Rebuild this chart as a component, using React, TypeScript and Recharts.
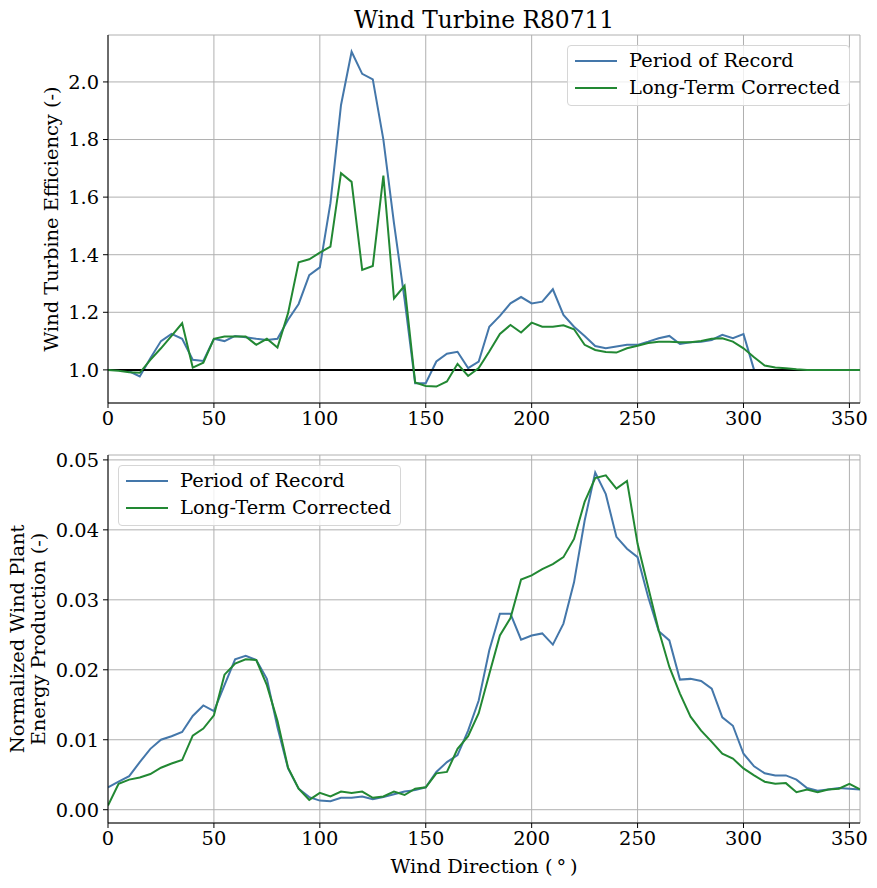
import React from 'react';
import { LineChart, Line, XAxis, YAxis, CartesianGrid, ReferenceLine, Legend } from 'recharts';

// Wind direction bins (degrees)
const directions = [
  0, 5, 10, 15, 20, 25, 30, 35, 40, 45, 50, 55, 60, 65, 70, 75, 80, 85,
  90, 95, 100, 105, 110, 115, 120, 125, 130, 135, 140, 145, 150, 155, 160, 165, 170, 175,
  180, 185, 190, 195, 200, 205, 210, 215, 220, 225, 230, 235, 240, 245, 250, 255, 260, 265,
  270, 275, 280, 285, 290, 295, 300, 305, 310, 315, 320, 325, 330, 335, 340, 345, 350, 355,
];

// Turbine efficiency per direction bin
const efficiencyRecord = [
  1.0, 1.0, 0.995, 0.977, 1.04, 1.1, 1.125, 1.108, 1.035, 1.031, 1.108, 1.1, 1.118, 1.113, 1.108, 1.104, 1.108, 1.174,
  1.229, 1.329, 1.356, 1.579, 1.92, 2.105, 2.028, 2.009, 1.8, 1.51, 1.245, 0.954, 0.954, 1.029, 1.056, 1.063, 1.006, 1.029,
  1.15, 1.1875, 1.231, 1.253, 1.231, 1.237, 1.28, 1.191, 1.15, 1.118, 1.083, 1.075, 1.081, 1.087, 1.087, 1.098, 1.11, 1.118,
  1.09, 1.096, 1.098, 1.104, 1.122, 1.11, 1.124, 1.0, 1.0, 1.0, 1.0, 1.0, 1.0, 1.0, 1.0, 1.0, 1.0, 1.0,
];
const efficiencyCorrected = [
  1.0, 0.997, 0.992, 0.99, 1.035, 1.075, 1.118, 1.162, 1.008, 1.025, 1.108, 1.116, 1.116, 1.116, 1.087, 1.108, 1.078, 1.197,
  1.374, 1.384, 1.407, 1.428, 1.683, 1.653, 1.347, 1.361, 1.675, 1.248, 1.292, 0.956, 0.944, 0.942, 0.96, 1.021, 0.979, 1.006,
  1.064, 1.125, 1.156, 1.13, 1.164, 1.15, 1.15, 1.155, 1.141, 1.087, 1.069, 1.062, 1.06, 1.075, 1.084, 1.093, 1.098, 1.098,
  1.096, 1.096, 1.1, 1.108, 1.11, 1.098, 1.075, 1.044, 1.015, 1.008, 1.006, 1.002, 1.0, 1.0, 1.0, 1.0, 1.0, 1.0,
];

// Normalized energy production per direction bin
const energyRecord = [
  0.0032, 0.004, 0.0048, 0.0068, 0.0087, 0.01, 0.0105, 0.0111, 0.0134, 0.0149, 0.0141, 0.0178, 0.0215, 0.022, 0.0214, 0.0187, 0.0118, 0.0059,
  0.003, 0.0018, 0.0013, 0.0012, 0.0017, 0.0017, 0.0019, 0.0015, 0.0018, 0.0022, 0.0026, 0.0028, 0.0032, 0.0054, 0.0068, 0.0078, 0.0113, 0.0156,
  0.0228, 0.028, 0.028, 0.0243, 0.0249, 0.0252, 0.0236, 0.0266, 0.0325, 0.0413, 0.0482, 0.0451, 0.039, 0.0373, 0.0361, 0.0304, 0.0255, 0.0242,
  0.0186, 0.0187, 0.0184, 0.0173, 0.0132, 0.012, 0.008, 0.0062, 0.0052, 0.0049, 0.0049, 0.0043, 0.0031, 0.0027, 0.0029, 0.0031, 0.003, 0.0029,
];
const energyCorrected = [
  0.0006, 0.0037, 0.0043, 0.0046, 0.0051, 0.006, 0.0066, 0.0071, 0.0106, 0.0116, 0.0135, 0.0193, 0.0209, 0.0215, 0.0214, 0.0178, 0.0127, 0.006,
  0.003, 0.0014, 0.0024, 0.0019, 0.0026, 0.0024, 0.0026, 0.0017, 0.0019, 0.0026, 0.0021, 0.003, 0.0032, 0.0052, 0.0054, 0.0087, 0.0105, 0.0138,
  0.0194, 0.0249, 0.0274, 0.0329, 0.0335, 0.0344, 0.0351, 0.0361, 0.0387, 0.044, 0.0474, 0.0478, 0.0459, 0.047, 0.038, 0.0318, 0.0256, 0.0204,
  0.0166, 0.0133, 0.0113, 0.0097, 0.008, 0.0073, 0.0059, 0.0049, 0.004, 0.0037, 0.0038, 0.0025, 0.0029, 0.0025, 0.0029, 0.003, 0.0037, 0.0029,
];

const xTicks = [0, 50, 100, 150, 200, 250, 300, 350];
const efficiencyTicks = [1.0, 1.2, 1.4, 1.6, 1.8, 2.0];
const energyTicks = [0.0, 0.01, 0.02, 0.03, 0.04, 0.05];

const seriesNames = ['Period of Record', 'Long-Term Corrected'];
const BLUE = '#4477AA';
const GREEN = '#228833';
const FONT = '"DejaVu Serif", serif';
const FS = 19.4;

const efficiencyData = directions.map((d, i) => ({
  dir: d,
  record: efficiencyRecord[i],
  corrected: efficiencyCorrected[i],
}));
const energyData = directions.map((d, i) => ({
  dir: d,
  record: energyRecord[i],
  corrected: energyCorrected[i],
}));

const tickStyle = { fill: '#000', fontSize: FS, fontFamily: FONT };

function LegendBox() {
  const colors = [BLUE, GREEN];
  return (
    <div
      style={{
        width: 281,
        height: 59,
        border: '1px solid #d6d6d6',
        borderRadius: 4,
        background: 'rgba(255,255,255,0.8)',
        position: 'relative',
        fontFamily: FONT,
        fontSize: FS,
        lineHeight: '22px',
        color: '#000',
      }}
    >
      {seriesNames.map((name, i) => (
        <React.Fragment key={name}>
          <svg width={50} height={6} style={{ position: 'absolute', left: 4, top: 12 + i * 27 }}>
            <line x1={3} x2={45} y1={3} y2={3} stroke={colors[i]} strokeWidth={2} />
          </svg>
          <span style={{ position: 'absolute', left: 61, top: 4 + i * 27, whiteSpace: 'nowrap' }}>{name}</span>
        </React.Fragment>
      ))}
    </div>
  );
}

export default function App() {
  return (
    <div style={{ position: 'absolute', left: 0, top: 0, width: 877, height: 888, background: '#fff' }}>
      <div
        style={{
          position: 'absolute',
          left: 108,
          width: 752,
          top: 6,
          textAlign: 'center',
          fontFamily: FONT,
          fontSize: 23.3,
          lineHeight: '28px',
          color: '#000',
        }}
      >
        Wind Turbine R80711
      </div>
      <div style={{ position: 'absolute', left: 0, top: 0 }}>
        <LineChart width={877} height={440} data={efficiencyData} margin={{ top: 35, right: 17, bottom: 7, left: 48 }}>
          <CartesianGrid stroke="#b0b0b0" strokeWidth={1} />
          <XAxis
            dataKey="dir"
            type="number"
            domain={[0, 355]}
            ticks={xTicks}
            allowDataOverflow
            height={30}
            tickSize={5}
            tickMargin={3}
            stroke="#000"
            tick={tickStyle}
          />
          <XAxis xAxisId="top" orientation="top" type="number" domain={[0, 355]} height={0} tick={false} tickLine={false} stroke="#000" />
          <YAxis
            type="number"
            domain={[0.885, 2.163]}
            ticks={efficiencyTicks}
            allowDataOverflow
            width={60}
            tickSize={5}
            tickMargin={4}
            stroke="#000"
            tick={tickStyle}
            tickFormatter={(v: number) => v.toFixed(1)}
            label={{
              content: () => (
                <text
                  x={51}
                  y={219}
                  transform="rotate(-90 51 219)"
                  textAnchor="middle"
                  dominantBaseline="central"
                  fontFamily={FONT}
                  fontSize={FS}
                  fill="#000"
                >
                  Wind Turbine Efficiency (-)
                </text>
              ),
            }}
          />
          <YAxis yAxisId="right" orientation="right" type="number" domain={[0, 1]} width={0} tick={false} tickLine={false} stroke="#000" />
          <Line dataKey="record" name={seriesNames[0]} stroke={BLUE} strokeWidth={2} dot={false} activeDot={false} isAnimationActive={false} />
          <ReferenceLine y={1} stroke="#000" strokeWidth={2} />
          <Line dataKey="corrected" name={seriesNames[1]} stroke={GREEN} strokeWidth={2} dot={false} activeDot={false} isAnimationActive={false} />
          <Legend
            layout="horizontal"
            verticalAlign="middle"
            align="center"
            content={() => <LegendBox />}
            wrapperStyle={{ position: 'absolute', left: 567, top: 45, width: 'auto', height: 'auto' }}
          />
        </LineChart>
      </div>
      <div style={{ position: 'absolute', left: 0, top: 440 }}>
        <LineChart width={877} height={448} data={energyData} margin={{ top: 15, right: 17, bottom: 35, left: 48 }}>
          <CartesianGrid stroke="#b0b0b0" strokeWidth={1} />
          <XAxis
            dataKey="dir"
            type="number"
            domain={[0, 355]}
            ticks={xTicks}
            allowDataOverflow
            height={30}
            tickSize={5}
            tickMargin={3}
            stroke="#000"
            tick={tickStyle}
            label={{
              content: () => (
                <text x={484} y={426} textAnchor="middle" dominantBaseline="central" fontFamily={FONT} fontSize={FS} fill="#000">
                  {'Wind Direction (\u2009\u00b0\u2009)'}
                </text>
              ),
            }}
          />
          <XAxis xAxisId="top" orientation="top" type="number" domain={[0, 355]} height={0} tick={false} tickLine={false} stroke="#000" />
          <YAxis
            type="number"
            domain={[-0.0019, 0.0507]}
            ticks={energyTicks}
            allowDataOverflow
            width={60}
            tickSize={5}
            tickMargin={4}
            stroke="#000"
            tick={tickStyle}
            tickFormatter={(v: number) => v.toFixed(2)}
            label={{
              content: () => (
                <text
                  transform="rotate(-90 28 199)"
                  x={28}
                  y={199}
                  textAnchor="middle"
                  fontFamily={FONT}
                  fontSize={FS}
                  fill="#000"
                >
                  <tspan x={28} dy="-0.2em">Normalized Wind Plant</tspan>
                  <tspan x={28} dy="1.1em">Energy Production (-)</tspan>
                </text>
              ),
            }}
          />
          <YAxis yAxisId="right" orientation="right" type="number" domain={[0, 1]} width={0} tick={false} tickLine={false} stroke="#000" />
          <Line dataKey="record" name={seriesNames[0]} stroke={BLUE} strokeWidth={2} dot={false} activeDot={false} isAnimationActive={false} />
          <Line dataKey="corrected" name={seriesNames[1]} stroke={GREEN} strokeWidth={2} dot={false} activeDot={false} isAnimationActive={false} />
          <Legend
            layout="horizontal"
            verticalAlign="middle"
            align="center"
            content={() => <LegendBox />}
            wrapperStyle={{ position: 'absolute', left: 118, top: 25, width: 'auto', height: 'auto' }}
          />
        </LineChart>
      </div>
    </div>
  );
}
